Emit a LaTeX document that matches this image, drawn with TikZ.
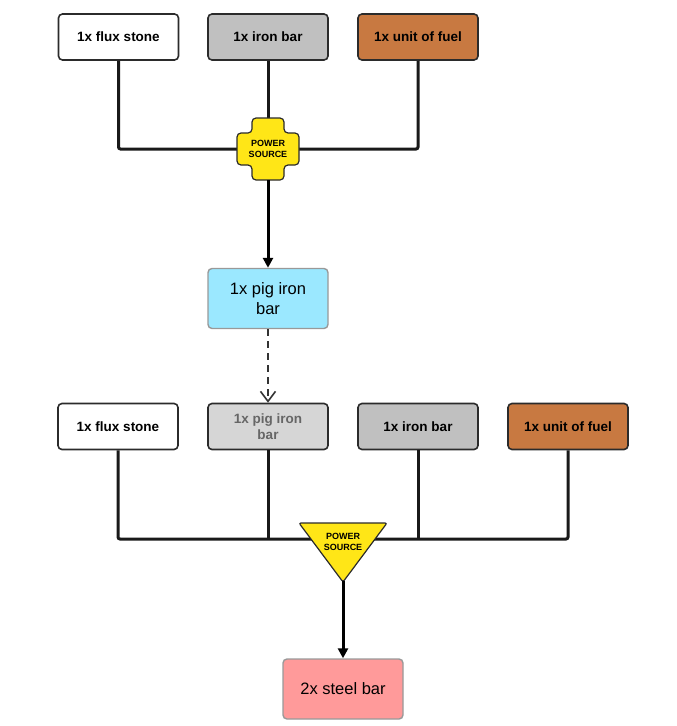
\documentclass[tikz,border=0pt]{standalone}
\usepackage{fontspec}
\setmainfont{Liberation Sans}
\usetikzlibrary{arrows.meta}
\definecolor{fuel}{HTML}{C87941}
\definecolor{ironc}{HTML}{C0C0C0}
\definecolor{pigc}{HTML}{D6D6D6}
\definecolor{cyanc}{HTML}{9BE8FF}
\definecolor{yel}{HTML}{FFE617}
\definecolor{steel}{HTML}{FF9A9A}
\definecolor{edge}{HTML}{2B2B2B}
\tikzset{
  itembox/.style={draw=edge, line width=1.6pt, rounded corners=4pt, minimum width=120pt, minimum height=46pt, inner sep=0pt, font=\bfseries\fontsize{13.5}{15.5}\selectfont, align=center},
  prodbox/.style={draw=gray!80, line width=1.4pt, rounded corners=4pt, minimum width=120pt, minimum height=60pt, inner sep=0pt, font=\fontsize{16.5}{20}\selectfont, align=center},
  wire/.style={line width=3pt, draw=black!90, rounded corners=2pt},
  pslabel/.style={font=\bfseries\fontsize{9}{11.5}\selectfont, align=center, inner sep=0pt},
}
\begin{document}
\begin{tikzpicture}[x=1pt,y=-1pt]
\useasboundingbox (0,0) rectangle (677,726);
% top row
\node[itembox, fill=white] (fs1) at (118.5,37) {1x flux stone};
\node[itembox, fill=ironc] (ib1) at (268,37) {1x iron bar};
\node[itembox, fill=fuel] (fu1) at (418,37) {1x unit of fuel};
\coordinate (ps1c) at (268,149);
\draw[wire] (fs1.south) |- (ps1c);
\draw[wire] (fu1.south) |- (ps1c);
\draw[wire] (ib1.south) -- (ps1c);
% cross
\draw[fill=yel, draw=edge, line width=1.2pt, rounded corners=4pt]
  (252,118) -- (284,118) -- (284,133) -- (299,133) -- (299,165) -- (284,165) -- (284,180) -- (252,180) -- (252,165) -- (237,165) -- (237,133) -- (252,133) -- cycle;
\node[pslabel] (ps1) at (268,149) {POWER\\SOURCE};
\coordinate (ps1b) at (268,180);
\node[prodbox, fill=cyanc] (pig) at (268,298.5) {1x pig iron\\bar};
\draw[line width=3pt, -{Triangle[length=10pt,width=10pt]}] (ps1b) -- (pig.north);
% second row
\node[itembox, fill=white] (fs2) at (118,426.5) {1x flux stone};
\node[itembox, fill=pigc, text=black!60] (pg2) at (268,426.5) {1x pig iron\\bar};
\node[itembox, fill=ironc] (ib2) at (418,426.5) {1x iron bar};
\node[itembox, fill=fuel] (fu2) at (568,426.5) {1x unit of fuel};
\draw[line width=2pt, draw=black!80, dash pattern=on 7pt off 5pt, -{Straight Barb[length=10pt,width=15pt,line width=1.6pt]}] (pig.south) -- (pg2.north);
\coordinate (ps2c) at (343,539);
\draw[wire] (fs2.south) |- (ps2c);
\draw[wire] (fu2.south) |- (ps2c);
\draw[wire] (pg2.south) -- (268,539);
\draw[wire] (ib2.south) -- (418,539);
% triangle
\draw[fill=yel, draw=edge, line width=1.2pt, rounded corners=2pt] (299,523) -- (387,523) -- (343,582) -- cycle;
\node[pslabel] (ps2) at (343,542) {POWER\\SOURCE};
\coordinate (ps2b) at (343,581);
\node[prodbox, fill=steel] (st) at (343,689) {2x steel bar};
\draw[line width=3pt, -{Triangle[length=10pt,width=10pt]}] (ps2b) -- (st.north);
\end{tikzpicture}
\end{document}
